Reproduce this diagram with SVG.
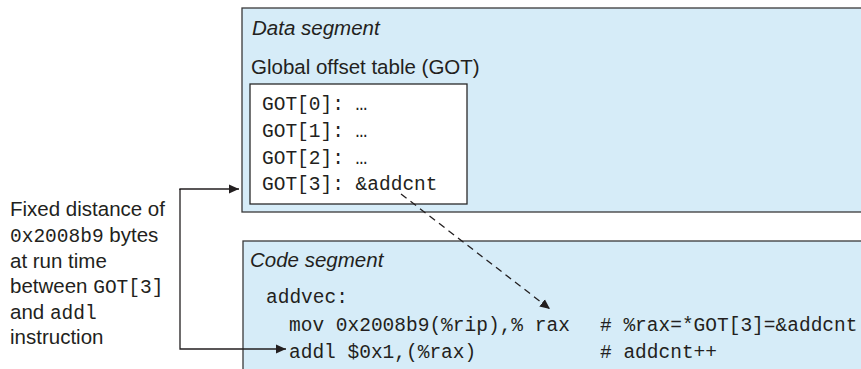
<svg xmlns="http://www.w3.org/2000/svg" width="861" height="369" viewBox="0 0 861 369">
<style>
.seg{fill:#d6ecf8;stroke:#3a3a3a;stroke-width:1.3}
.tbl{fill:#ffffff;stroke:#2a2a2a;stroke-width:1.3}
.sans{font-family:"Liberation Sans",Arial,sans-serif;font-size:20.5px;fill:#231f20}
.ital{font-style:italic}
.mono{font-family:"Liberation Mono","Courier New",monospace;font-size:19.5px;fill:#231f20}
.conn{fill:none;stroke:#231f20;stroke-width:1.3}
.dash{stroke-dasharray:7 5}
</style>
<defs>
<marker id="ah" viewBox="0 0 10 10" refX="10" refY="5" markerWidth="10" markerHeight="10" markerUnits="userSpaceOnUse" orient="auto">
<path d="M0,0.5 L10,5 L0,9.5 Z" fill="#231f20"/>
</marker>
</defs>
<rect width="861" height="369" fill="#ffffff"/>
<g id="data-segment">
<rect class="seg" x="242" y="8" width="640" height="204"/>
<text class="sans ital" x="252" y="35">Data segment</text>
<text class="sans" x="251" y="74">Global offset table (GOT)</text>
</g>
<g id="got-table">
<rect class="tbl" x="250" y="84" width="217" height="120"/>
<text class="mono" x="262" y="110">GOT[0]: …</text>
<text class="mono" x="262" y="137">GOT[1]: …</text>
<text class="mono" x="262" y="164">GOT[2]: …</text>
<text class="mono" x="262" y="190">GOT[3]: &amp;addcnt</text>
</g>
<g id="code-segment">
<rect class="seg" x="243" y="241" width="640" height="140"/>
<text class="sans ital" x="250" y="267">Code segment</text>
<text class="mono" x="266" y="303">addvec:</text>
<text class="mono" x="289" y="331">mov 0x2008b9(%rip),% rax</text>
<text class="mono" x="600" y="331"># %rax=*GOT[3]=&amp;addcnt</text>
<text class="mono" x="289" y="358">addl $0x1,(%rax)</text>
<text class="mono" x="600" y="358"># addcnt++</text>
</g>
<g id="note">
<text class="sans" x="10" y="216">Fixed distance of</text>
<text class="sans" x="10" y="242"><tspan class="mono">0x2008b9</tspan> bytes</text>
<text class="sans" x="10" y="268">at run time</text>
<text class="sans" x="10" y="293">between <tspan class="mono">GOT[3]</tspan></text>
<text class="sans" x="10" y="319">and <tspan class="mono">addl</tspan></text>
<text class="sans" x="10" y="344">instruction</text>
</g>
<g id="connectors">
<polyline class="conn" points="180,189 180,349 286,349" marker-end="url(#ah)"/>
<polyline class="conn" points="180,190 180,189 239,189" marker-end="url(#ah)"/>
<line class="conn dash" x1="401" y1="194" x2="550" y2="309" marker-end="url(#ah)"/>
</g>
</svg>
